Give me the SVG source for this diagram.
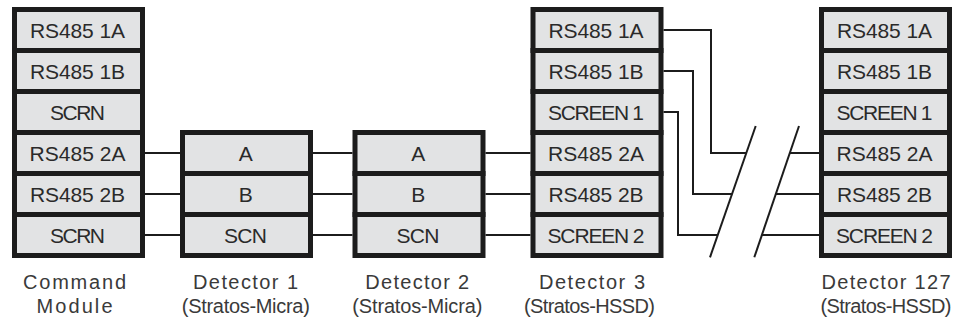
<svg xmlns="http://www.w3.org/2000/svg" width="960" height="320" viewBox="0 0 960 320">
  <style>
    .cell { fill: #e2e3e4; stroke: #1c1c1c; stroke-width: 5; }
    .ct { font-family: "Liberation Sans", Arial, sans-serif; font-size: 21px; fill: #2a2a2a; text-anchor: middle; }
    .lbl { font-family: "Liberation Sans", Arial, sans-serif; font-size: 20px; fill: #3a3a3a; text-anchor: middle; }
    .wire { fill: none; stroke: #1c1c1c; stroke-width: 2; }
  </style>

  <!-- wiring between terminal blocks -->
  <g id="connectors">
    <!-- Command Module to Detector 1 -->
    <line class="wire" x1="145" y1="153" x2="180" y2="153"/>
    <line class="wire" x1="145" y1="194" x2="180" y2="194"/>
    <line class="wire" x1="145" y1="235" x2="180" y2="235"/>
    <!-- Detector 1 to Detector 2 -->
    <line class="wire" x1="313" y1="153" x2="352.5" y2="153"/>
    <line class="wire" x1="313" y1="194" x2="352.5" y2="194"/>
    <line class="wire" x1="313" y1="235" x2="352.5" y2="235"/>
    <!-- Detector 2 to Detector 3 -->
    <line class="wire" x1="485.5" y1="153" x2="530.5" y2="153"/>
    <line class="wire" x1="485.5" y1="194" x2="530.5" y2="194"/>
    <line class="wire" x1="485.5" y1="235" x2="530.5" y2="235"/>
    <!-- Detector 3 outputs routed down towards the break -->
    <path class="wire" d="M663.5,30 H711 V153 H746.3"/>
    <path class="wire" d="M663.5,71 H693 V194 H732"/>
    <path class="wire" d="M663.5,112 H678 V235 H717.8"/>
    <!-- break marks -->
    <line class="wire" x1="755.7" y1="126" x2="710" y2="257.3"/>
    <line class="wire" x1="799" y1="126" x2="754.3" y2="257.3"/>
    <!-- continuation into Detector 127 -->
    <line class="wire" x1="789.8" y1="153" x2="819" y2="153"/>
    <line class="wire" x1="775.9" y1="194" x2="819" y2="194"/>
    <line class="wire" x1="761.9" y1="235" x2="819" y2="235"/>
  </g>

  <g id="command-module">
    <rect class="cell" x="14.5" y="9.5" width="128" height="41"/>
    <rect class="cell" x="14.5" y="50.5" width="128" height="41"/>
    <rect class="cell" x="14.5" y="91.5" width="128" height="41"/>
    <rect class="cell" x="14.5" y="132.5" width="128" height="41"/>
    <rect class="cell" x="14.5" y="173.5" width="128" height="41"/>
    <rect class="cell" x="14.5" y="214.5" width="128" height="41"/>
    <text class="ct" x="77.5" y="37.8" textLength="95">RS485 1A</text>
    <text class="ct" x="77.5" y="78.8" textLength="95">RS485 1B</text>
    <text class="ct" x="77.5" y="119.8" textLength="55">SCRN</text>
    <text class="ct" x="77.5" y="160.8" textLength="96">RS485 2A</text>
    <text class="ct" x="77.5" y="201.8" textLength="95">RS485 2B</text>
    <text class="ct" x="77.5" y="242.8" textLength="55">SCRN</text>
    <text class="lbl" x="74.5" y="288.5" textLength="103">Command</text>
    <text class="lbl" x="74.5" y="312.5" textLength="76">Module</text>
  </g>

  <g id="detector-1">
    <rect class="cell" x="182.5" y="132.5" width="128" height="41"/>
    <rect class="cell" x="182.5" y="173.5" width="128" height="41"/>
    <rect class="cell" x="182.5" y="214.5" width="128" height="41"/>
    <text class="ct" x="245.8" y="160.8">A</text>
    <text class="ct" x="245.8" y="201.8">B</text>
    <text class="ct" x="245.5" y="242.8" textLength="43">SCN</text>
    <text class="lbl" x="245.5" y="288.5" textLength="105">Detector 1</text>
    <text class="lbl" x="245.8" y="312.5" textLength="128">(Stratos-Micra)</text>
  </g>

  <g id="detector-2">
    <rect class="cell" x="355" y="132.5" width="128" height="41"/>
    <rect class="cell" x="355" y="173.5" width="128" height="41"/>
    <rect class="cell" x="355" y="214.5" width="128" height="41"/>
    <text class="ct" x="418.3" y="160.8">A</text>
    <text class="ct" x="418.3" y="201.8">B</text>
    <text class="ct" x="418" y="242.8" textLength="43">SCN</text>
    <text class="lbl" x="417.2" y="288.5" textLength="104">Detector 2</text>
    <text class="lbl" x="417.3" y="312.5" textLength="130">(Stratos-Micra)</text>
  </g>

  <g id="detector-3">
    <rect class="cell" x="533" y="9.5" width="128" height="41"/>
    <rect class="cell" x="533" y="50.5" width="128" height="41"/>
    <rect class="cell" x="533" y="91.5" width="128" height="41"/>
    <rect class="cell" x="533" y="132.5" width="128" height="41"/>
    <rect class="cell" x="533" y="173.5" width="128" height="41"/>
    <rect class="cell" x="533" y="214.5" width="128" height="41"/>
    <text class="ct" x="596" y="37.8" textLength="95">RS485 1A</text>
    <text class="ct" x="596" y="78.8" textLength="95">RS485 1B</text>
    <text class="ct" x="596" y="119.8" textLength="96">SCREEN 1</text>
    <text class="ct" x="596" y="160.8" textLength="96">RS485 2A</text>
    <text class="ct" x="596" y="201.8" textLength="95">RS485 2B</text>
    <text class="ct" x="596" y="242.8" textLength="97">SCREEN 2</text>
    <text class="lbl" x="592" y="288.5" textLength="106">Detector 3</text>
    <text class="lbl" x="589.5" y="312.5" textLength="131">(Stratos-HSSD)</text>
  </g>

  <g id="detector-127">
    <rect class="cell" x="821.5" y="9.5" width="128" height="41"/>
    <rect class="cell" x="821.5" y="50.5" width="128" height="41"/>
    <rect class="cell" x="821.5" y="91.5" width="128" height="41"/>
    <rect class="cell" x="821.5" y="132.5" width="128" height="41"/>
    <rect class="cell" x="821.5" y="173.5" width="128" height="41"/>
    <rect class="cell" x="821.5" y="214.5" width="128" height="41"/>
    <text class="ct" x="884.5" y="37.8" textLength="95">RS485 1A</text>
    <text class="ct" x="884.5" y="78.8" textLength="95">RS485 1B</text>
    <text class="ct" x="884.5" y="119.8" textLength="96">SCREEN 1</text>
    <text class="ct" x="884.5" y="160.8" textLength="96">RS485 2A</text>
    <text class="ct" x="884.5" y="201.8" textLength="95">RS485 2B</text>
    <text class="ct" x="884.5" y="242.8" textLength="97">SCREEN 2</text>
    <text class="lbl" x="886" y="288.5" textLength="129">Detector 127</text>
    <text class="lbl" x="886" y="312.5" textLength="131">(Stratos-HSSD)</text>
  </g>
</svg>
